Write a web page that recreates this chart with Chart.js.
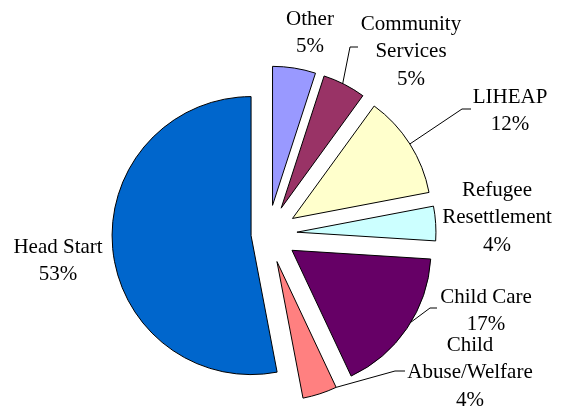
<!DOCTYPE html>
<html>
<head>
<meta charset="utf-8">
<script src="https://cdn.jsdelivr.net/npm/chart.js@4"></script>
<style>
  html, body { margin: 0; padding: 0; background: #fff; }
  #wrap { width: 561px; height: 409px; position: relative; }
</style>
</head>
<body>
<div id="wrap"><canvas id="pieChart"></canvas></div>
<script>
// slices, clockwise from 12 o'clock
const categories = ["Other", "Community Services", "LIHEAP", "Refugee Resettlement",
                    "Child Care", "Child Abuse/Welfare", "Head Start"];
const shares = [5, 5, 12, 4, 17, 4, 53];
const sliceColors = ["#9999FF", "#993366", "#FFFFCC", "#CCFFFF", "#660066", "#FF8080", "#0066CC"];
const labelLines = [["Other"], ["Community", "Services"], ["LIHEAP"], ["Refugee", "Resettlement"],
                    ["Child Care"], ["Child", "Abuse/Welfare"], ["Head Start"]];

// how far each slice is pulled out from the centre (px)
const explode = [29, 29, 29, 29, 29, 29, 17];

// label placement: text centre x, first line y, optional leader line
const labelSpots = [
  { x: 310, y: 19 },
  { x: 411, y: 24, leader: { t: 0.46, elbow: [350, 47], end: [358, 47] } },
  { x: 510, y: 97, leader: { t: 0.5, elbow: [462, 109], end: [471, 109] } },
  { x: 497, y: 190 },
  { x: 486, y: 297, leader: { t: 0.45, elbow: [430, 308], end: [437, 308] } },
  { x: 470, y: 345, leader: { t: 0.0, elbow: [395, 371], end: [405, 371] } },
  { x: 58, y: 247 }
];
const lineGap = 27.5;
const labelFont = '21px "Liberation Serif", "Times New Roman", serif';

const explodeSlices = {
  id: "explodeSlices",
  afterDatasetUpdate(chart, args) {
    args.meta.data.forEach((arc, i) => {
      const mid = (arc.startAngle + arc.endAngle) / 2;
      arc.x += Math.cos(mid) * explode[i];
      arc.y += Math.sin(mid) * explode[i];
    });
  }
};

const sliceLabels = {
  id: "sliceLabels",
  afterDraw(chart) {
    const ctx = chart.ctx;
    const arcs = chart.getDatasetMeta(0).data;
    ctx.save();
    ctx.font = labelFont;
    ctx.fillStyle = "#000";
    ctx.textAlign = "center";
    ctx.textBaseline = "middle";
    ctx.strokeStyle = "#000";
    ctx.lineWidth = 1;
    labelSpots.forEach((spot, i) => {
      const lines = labelLines[i].concat([shares[i] + "%"]);
      lines.forEach((txt, k) => ctx.fillText(txt, spot.x, spot.y + k * lineGap));
      if (spot.leader) {
        const arc = arcs[i];
        const a = arc.startAngle + spot.leader.t * (arc.endAngle - arc.startAngle);
        ctx.beginPath();
        ctx.moveTo(arc.x + Math.cos(a) * arc.outerRadius, arc.y + Math.sin(a) * arc.outerRadius);
        ctx.lineTo(spot.leader.elbow[0], spot.leader.elbow[1]);
        ctx.lineTo(spot.leader.end[0], spot.leader.end[1]);
        ctx.stroke();
      }
    });
    ctx.restore();
  }
};

new Chart(document.getElementById("pieChart"), {
  type: "pie",
  data: {
    labels: categories,
    datasets: [{
      data: shares,
      backgroundColor: sliceColors,
      borderColor: "#000",
      borderWidth: 1,
      radius: 139,
      clip: false
    }]
  },
  options: {
    responsive: true,
    maintainAspectRatio: false,
    animation: false,
    layout: { padding: { left: 0, right: 25, top: 59, bottom: 0 } },
    plugins: {
      legend: { display: false },
      tooltip: { enabled: false }
    }
  },
  plugins: [explodeSlices, sliceLabels]
});
</script>
</body>
</html>
